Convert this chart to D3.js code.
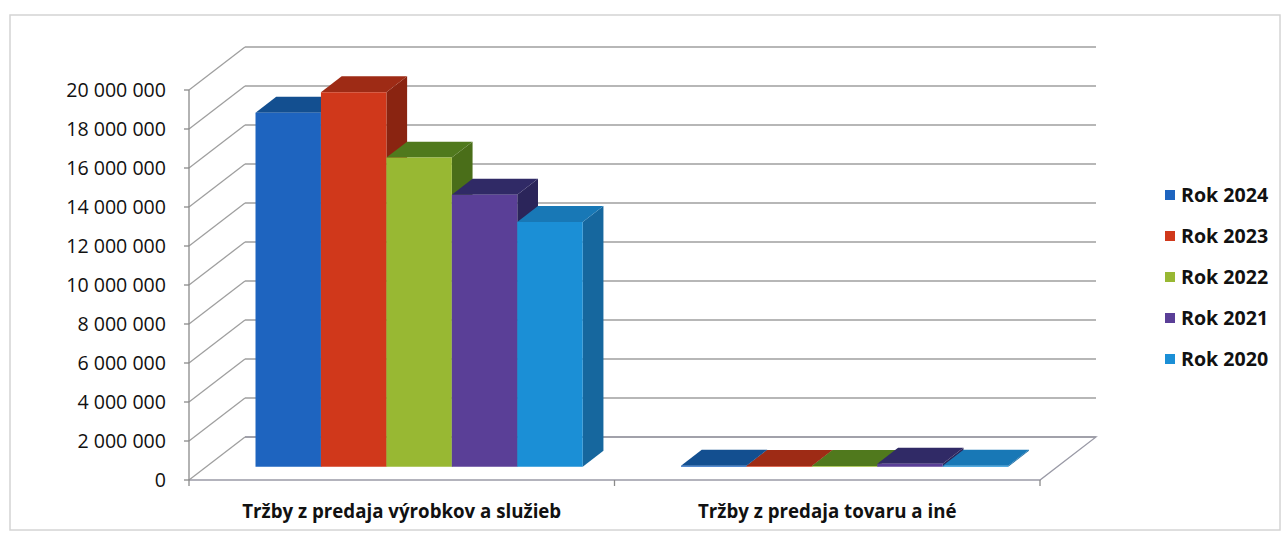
<!DOCTYPE html>
<html>
<head>
<meta charset="utf-8">
<script src="https://cdn.jsdelivr.net/npm/d3@7"></script>
<style>
  body { margin: 0; background: #fff; }
  text { font-family: "Open Sans", sans-serif; fill: #111; }
</style>
</head>
<body>
<div id="chart"></div>
<script>
// data
const categories = ["Tržby z predaja výrobkov a služieb", "Tržby z predaja tovaru a iné"];
const seriesNames = ["Rok 2024", "Rok 2023", "Rok 2022", "Rok 2021", "Rok 2020"];
const rok2024 = [18150000, 50000];
const rok2023 = [19200000, 40000];
const rok2022 = [15850000, 40000];
const rok2021 = [13950000, 150000];
const rok2020 = [12550000, 50000];
const seriesValues = [rok2024, rok2023, rok2022, rok2021, rok2020];
const yTicks = [0, 2000000, 4000000, 6000000, 8000000, 10000000, 12000000, 14000000, 16000000, 18000000, 20000000];

// face colours: front, top, side
const palette = [
  ["#1e64bf", "#134f90", "#124a86"],
  ["#d0381b", "#9e2b15", "#8a2411"],
  ["#98b833", "#50791d", "#4a6e19"],
  ["#5a3f97", "#302a66", "#2b255a"],
  ["#1b8fd6", "#1878b6", "#16679e"]
];

const width = 1282, height = 533;
const DX = 56, DY = 43;     // depth offset of the back wall
const z0 = 0.31, z1 = 0.68;  // bar depth range

const svg = d3.select("#chart").append("svg")
  .attr("width", width).attr("height", height);

// outer frame
svg.append("rect")
  .attr("x", 10).attr("y", 15).attr("width", 1270).attr("height", 515)
  .attr("fill", "none").attr("stroke", "#d4d4d4").attr("stroke-width", 1.5);

const x = d3.scaleBand().domain(categories).range([189, 1040]).paddingInner(0.231).paddingOuter(0.1155);
const xs = d3.scaleBand().domain(seriesNames).range([0, x.bandwidth()]);
const y = d3.scaleLinear().domain([0, 20000000]).range([480, 90]);

const proj = (px, v, z) => [px + z * DX, y(v) - z * DY];
const line = d3.line();
const xL = x.range()[0], xR = x.range()[1];

const grid = svg.append("g").attr("fill", "none").attr("stroke", "#9f9f9f").attr("stroke-width", 1.3);

// side wall and back wall grid lines
yTicks.forEach(t => {
  grid.append("path").attr("d", line([proj(xL, t, 0), proj(xL, t, 1)]));
  grid.append("path").attr("d", line([proj(xL, t, 1), proj(xR, t, 1)]));
});

// floor
grid.append("path").attr("stroke", "#9a9aa6")
  .attr("d", line([proj(xL, 0, 0), proj(xR, 0, 0), proj(xR, 0, 1), proj(xL, 0, 1)]));

// vertical axis + ticks
const axis = svg.append("g").attr("stroke", "#8a8a8a").attr("stroke-width", 1.3);
axis.append("path").attr("d", line([proj(xL, 0, 0), proj(xL, 20000000, 0)]));
yTicks.forEach(t => {
  axis.append("path").attr("d", line([[xL - 5, y(t)], [xL, y(t)]]));
});
[xL, x(categories[1]) - x.step() * x.paddingInner() / 2, xR].forEach(px => {
  axis.append("path").attr("d", line([[px, 480], [px, 486]]));
});

// y labels
const fmt = v => d3.format(",")(v).replace(/,/g, " ");
svg.append("g").selectAll("text").data(yTicks).join("text")
  .attr("x", 166).attr("y", d => y(d)).attr("dy", "0.35em")
  .attr("text-anchor", "end").attr("font-size", 19.6)
  .text(fmt);

// bars
const bars = svg.append("g");
categories.forEach((c, ci) => {
  seriesNames.forEach((s, si) => {
    const v = seriesValues[si][ci];
    const bx = x(c) + xs(s), bw = xs.bandwidth();
    const g = bars.append("g");
    const col = palette[si];
    g.append("path").attr("fill", col[2])
      .attr("d", line([proj(bx + bw, 0, z0), proj(bx + bw, v, z0), proj(bx + bw, v, z1), proj(bx + bw, 0, z1)]) + "Z");
    g.append("path").attr("fill", col[1])
      .attr("d", line([proj(bx, v, z0), proj(bx + bw, v, z0), proj(bx + bw, v, z1), proj(bx, v, z1)]) + "Z");
    g.append("path").attr("fill", col[0])
      .attr("d", line([proj(bx, 0, z0), proj(bx + bw, 0, z0), proj(bx + bw, v, z0), proj(bx, v, z0)]) + "Z");
  });
});

// category labels
svg.append("g").selectAll("text").data(categories).join("text")
  .attr("x", d => x(d) + x.bandwidth() / 2).attr("y", 511).attr("dy", "0.35em")
  .attr("text-anchor", "middle").attr("font-size", 18.7).attr("font-weight", 700)
  .text(d => d);

// legend
const legend = svg.append("g").selectAll("g").data(seriesNames).join("g")
  .attr("transform", (d, i) => `translate(1165, ${195 + i * 41})`);
legend.append("rect").attr("x", 0).attr("y", -5).attr("width", 10).attr("height", 10)
  .attr("fill", (d, i) => palette[i][0]);
legend.append("text").attr("x", 16).attr("y", 0).attr("dy", "0.35em")
  .attr("font-size", 19.6).attr("font-weight", 700)
  .text(d => d);
</script>
</body>
</html>
